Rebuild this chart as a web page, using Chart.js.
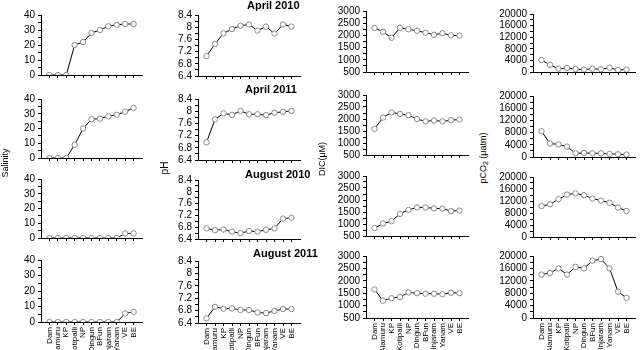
<!DOCTYPE html>
<html>
<head>
<meta charset="utf-8">
<script src="https://cdn.jsdelivr.net/npm/chart.js@4.4.0/dist/chart.umd.min.js"></script>
<style>
  body { margin: 0; background: #fff; width: 640px; height: 350px; overflow: hidden; position: relative;
         font-family: 'Liberation Sans', Arial, sans-serif; color: #000; }
  .box { position: absolute; }
  .ttl { position: absolute; font-weight: bold; font-size: 11px; line-height: 1; white-space: nowrap; color: #000; }
  .ylab { position: absolute; font-size: 9px; line-height: 1; white-space: nowrap; color: #000;
          transform: translate(-50%, -50%) rotate(-90deg); }
  .ylab sub { font-size: 7px; color: #000; }
</style>
</head>
<body>
<script>
const FONT = "'Liberation Sans', Arial, sans-serif";

// station names along the estuary (x axis)
const stations = ['Dam', 'Alamuru', 'KP', 'Kotipalli', 'NP', 'Dingun', 'BFun', 'Injaram', 'Yanam', 'VE', 'BE'];
const periods = ['April 2010', 'April 2011', 'August 2010', 'August 2011'];

// Salinity
const salApr10 = [0, 0, 0, 20, 22, 28, 30, 32.5, 33.5, 34, 34];
const salApr11 = [0, 0, 0, 9, 20, 26.3, 26.7, 28.3, 29.3, 31.4, 34];
const salAug10 = [0, 0, 0, 0, 0, 0, 0, 0, 0, 3.1, 3.1];
const salAug11 = [0, 0, 0, 0, 0, 0, 0, 0, 0, 5.5, 6.5];

// pH
const phApr10 = [7.05, 7.45, 7.8, 7.94, 8.05, 8.09, 7.89, 8.02, 7.79, 8.09, 8.02];
const phApr11 = [6.98, 7.73, 7.93, 7.88, 8.01, 7.9, 7.9, 7.87, 7.95, 7.98, 8.01];
const phAug10 = [6.76, 6.7, 6.72, 6.65, 6.6, 6.67, 6.65, 6.71, 6.76, 7.09, 7.12];
const phAug11 = [6.55, 6.92, 6.86, 6.87, 6.82, 6.82, 6.74, 6.72, 6.79, 6.85, 6.85];

// DIC (uM)
const dicApr10 = [2310, 2150, 1900, 2310, 2250, 2190, 2110, 2025, 2090, 2000, 1990];
const dicApr11 = [1590, 2060, 2275, 2210, 2160, 2000, 1900, 1940, 1900, 1950, 1975];
const dicAug10 = [830, 1020, 1120, 1420, 1590, 1690, 1690, 1650, 1640, 1535, 1560];
const dicAug11 = [1650, 1200, 1300, 1350, 1530, 1500, 1480, 1480, 1460, 1520, 1500];

// pCO2 (uatm)
const pco2Apr10 = [4120, 2470, 1130, 1340, 1030, 820, 1130, 930, 1440, 720, 820];
const pco2Apr11 = [8440, 4420, 4120, 3420, 1210, 1310, 1210, 1210, 1000, 900, 800];
const pco2Aug10 = [10300, 10900, 12600, 14140, 14550, 13940, 12830, 12120, 11410, 9800, 8690];
const pco2Aug11 = [14000, 14500, 16000, 14000, 16500, 16000, 18500, 19000, 16000, 8500, 6500];

const grid = [
  [salApr10, phApr10, dicApr10, pco2Apr10],
  [salApr11, phApr11, dicApr11, pco2Apr11],
  [salAug10, phAug10, dicAug10, pco2Aug10],
  [salAug11, phAug11, dicAug11, pco2Aug11]
];

// y axis per column: range, major step, minor step
const yAxes = [
  { min: 0, max: 40, step: 10, minor: 5, dec: 0 },
  { min: 6.4, max: 8.4, step: 0.4, minor: 0.2, dec: 1 },
  { min: 500, max: 3000, step: 500, minor: 250, dec: 0 },
  { min: 0, max: 20000, step: 4000, minor: 2000, dec: 0 }
];

// plot area boxes (left/right per column, top/bottom per panel)
const colX = [[41, 146], [198, 304], [366, 472], [533, 639]];
const rowY = [
  [[12, 78], [12, 79], [8, 75], [11, 75]],
  [[96, 161], [96, 163], [92, 158], [93, 160]],
  [[176, 241], [177, 242], [173, 239], [174, 240]],
  [[257, 322], [258, 323], [253, 318], [253, 318]]
];
const Y_W = 40, PAD_T = 6;

function panel(r, c) {
  const [L, R] = colX[c];
  const [T, B] = rowY[r][c];
  const last = r === 3;
  const xH = last ? 350 - B : 6;
  const ax = yAxes[c];

  const div = document.createElement('div');
  div.className = 'box';
  div.style.left = (L - Y_W) + 'px';
  div.style.top = (T - PAD_T) + 'px';
  div.style.width = (R - L + Y_W + 1) + 'px';
  div.style.height = (B - T + PAD_T + xH) + 'px';
  const cv = document.createElement('canvas');
  div.appendChild(cv);
  document.body.appendChild(div);

  new Chart(cv, {
    type: 'line',
    data: {
      datasets: [{
        data: grid[r][c].map((v, i) => ({ x: i, y: v })),
        borderColor: '#000',
        borderWidth: 1,
        pointRadius: 2.7,
        pointBorderColor: '#8a8a8a',
        pointBackgroundColor: '#fff',
        pointBorderWidth: 1,
        tension: 0
      }]
    },
    options: {
      responsive: true,
      maintainAspectRatio: false,
      animation: false,
      layout: { padding: { top: PAD_T, right: 1, left: 0, bottom: 0 } },
      plugins: { legend: { display: false }, tooltip: { enabled: false } },
      scales: {
        x: {
          type: 'linear', min: -1, max: 11,
          afterBuildTicks: s => { s.ticks = stations.map((_, i) => ({ value: i })); },
          afterFit: s => { s.height = xH; },
          border: { display: true, color: '#000', width: 1 },
          grid: { drawOnChartArea: false, drawTicks: true, tickLength: 3, color: '#000' },
          ticks: {
            display: last, autoSkip: false, minRotation: 90, maxRotation: 90, padding: 2,
            color: '#000', font: { size: 8, family: FONT },
            callback: v => stations[v]
          }
        },
        y: {
          min: ax.min, max: ax.max,
          afterBuildTicks: s => {
            const n = Math.round((ax.max - ax.min) / ax.minor);
            const t = [];
            for (let k = 0; k <= n; k++) t.push({ value: +(ax.min + k * ax.minor).toFixed(2) });
            s.ticks = t;
          },
          afterFit: s => { s.width = Y_W; },
          border: { display: true, color: '#000', width: 1 },
          grid: { drawOnChartArea: false, drawTicks: true, tickLength: 3, color: '#000' },
          ticks: {
            autoSkip: false, padding: 3, color: '#000', font: { size: 10, family: FONT },
            callback: v => {
              const q = (v - ax.min) / ax.step;
              if (Math.abs(q - Math.round(q)) > 1e-6) return '';
              return String(+v.toFixed(ax.dec));
            }
          }
        }
      }
    }
  });
}

for (let r = 0; r < 4; r++) for (let c = 0; c < 4; c++) panel(r, c);

// period titles, top right of the pH column
const ttlPos = [[247, 0], [245, 84], [245, 169], [253, 248]];
periods.forEach((p, i) => {
  const d = document.createElement('div');
  d.className = 'ttl';
  d.style.left = ttlPos[i][0] + 'px';
  d.style.top = ttlPos[i][1] + 'px';
  d.textContent = p;
  document.body.appendChild(d);
});

// y axis titles
const yTitles = [
  ['Salinity', 5, 163, 9],
  ['pH', 165, 168, 10],
  ['DIC(\u03bcM)', 322, 159, 9],
  ['pCO<sub>2</sub> (\u03bcatm)', 484, 158, 9]
];
yTitles.forEach(([t, x, y, fs]) => {
  const d = document.createElement('div');
  d.className = 'ylab';
  d.style.left = x + 'px';
  d.style.top = y + 'px';
  d.style.fontSize = fs + 'px';
  d.innerHTML = t;
  document.body.appendChild(d);
});
</script>
</body>
</html>
